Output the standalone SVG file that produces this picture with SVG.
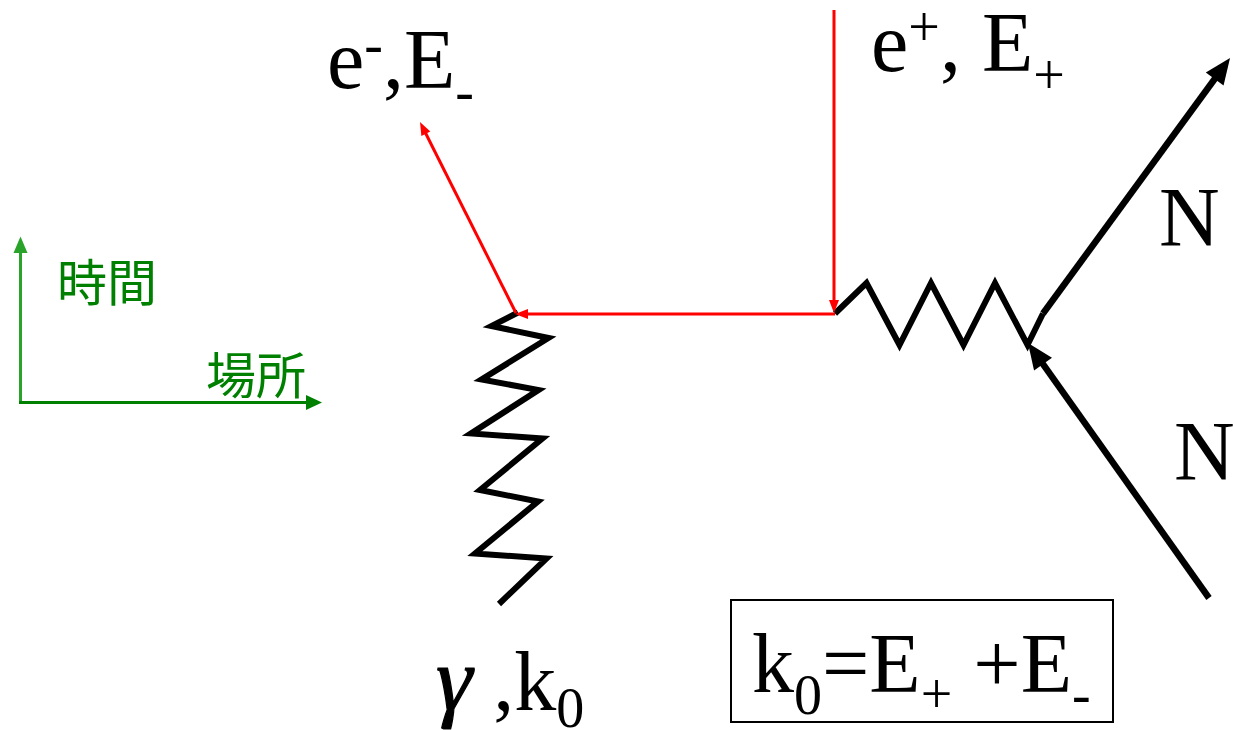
<svg xmlns="http://www.w3.org/2000/svg" width="1233" height="730" viewBox="0 0 1233 730">
<style>
.t{font-family:"Liberation Serif","Times New Roman",serif;font-size:84px;fill:#000}
.s{font-size:56px}
.g{font-style:italic;font-size:92px;stroke:#000;stroke-width:1.2}
.jp{font-family:"Noto Sans CJK JP","Noto Sans CJK SC",sans-serif;font-size:50px;fill:#008000}
.red{stroke:#ff0000;stroke-width:3;fill:none}
.blk{stroke:#000;stroke-width:6;fill:none;stroke-linejoin:miter}
.arr{stroke:#000;stroke-width:6.5;fill:none}
</style>
<defs>
<marker id="mr" markerUnits="userSpaceOnUse" markerWidth="14" markerHeight="12" refX="3" refY="5" orient="auto" overflow="visible">
<path d="M0,0 L13,5 L0,10 z" fill="#ff0000"/>
</marker>
<marker id="mb" markerUnits="userSpaceOnUse" markerWidth="27" markerHeight="23" refX="8" refY="11" orient="auto" overflow="visible">
<path d="M0,0 L26,11 L0,22 z" fill="#000"/>
</marker>
</defs>

<g id="axes">
<line x1="20.5" y1="404" x2="20.5" y2="250" stroke="#29a329" stroke-width="3"/>
<path d="M20.5,236.5 L27.5,253 L13.5,253 z" fill="#29a329"/>
<line x1="19" y1="402.5" x2="309" y2="402.5" stroke="#008000" stroke-width="3"/>
<path d="M322,402.5 L306,395 L306,410 z" fill="#008000"/>
<text class="jp" x="57" y="301">時間</text>
<text class="jp" x="206" y="394">場所</text>
</g>

<g id="photon">
<polyline class="blk" points="499,604 546.5,558.5 475,553.5 538,501.5 480,490 542.5,438.5 471,433.5 538.5,390 481.5,379.5 548.5,338 491.5,326 518,312.5"/>
</g>

<g id="virtual-photon">
<polyline class="blk" points="835,313.5 866.5,283 899.5,345 931,283 963.5,345 995,283 1027.5,345 1043,313.5"/>
</g>

<g id="connectors">
<line class="red" x1="835" y1="314" x2="525" y2="314" marker-end="url(#mr)"/>
<line class="red" x1="834" y1="10" x2="834" y2="303" marker-end="url(#mr)"/>
<line class="red" x1="516" y1="313" x2="424.5" y2="131" marker-end="url(#mr)"/>
<line class="arr" x1="1043" y1="313.5" x2="1219.4" y2="72.5" marker-end="url(#mb)"/>
<line class="arr" x1="1209" y1="598" x2="1038.4" y2="357.7" marker-end="url(#mb)"/>
</g>

<g id="label-electron">
<text class="t" x="327" y="88">e<tspan class="s" dy="-25">-</tspan><tspan dy="25">,E</tspan><tspan class="s" dy="22">-</tspan></text>
</g>
<g id="label-positron">
<text class="t" x="871" y="71">e<tspan class="s" dy="-25">+</tspan><tspan dy="25">, E</tspan><tspan class="s" dy="23">+</tspan></text>
</g>
<g id="label-N-out">
<text class="t" x="1159" y="246">N</text>
</g>
<g id="label-N-in">
<text class="t" x="1174" y="480">N</text>
</g>
<g id="label-gamma">
<text class="t" x="436" y="710"><tspan class="g">γ</tspan> ,k<tspan class="s" dy="17">0</tspan></text>
</g>
<g id="formula">
<rect x="731" y="600" width="382" height="122" fill="none" stroke="#000" stroke-width="2"/>
<text class="t" x="752" y="692">k<tspan class="s" dy="22">0</tspan><tspan dy="-22">=E</tspan><tspan class="s" dy="21">+</tspan><tspan dy="-21"> +E</tspan><tspan class="s" dy="21">-</tspan></text>
</g>
</svg>
